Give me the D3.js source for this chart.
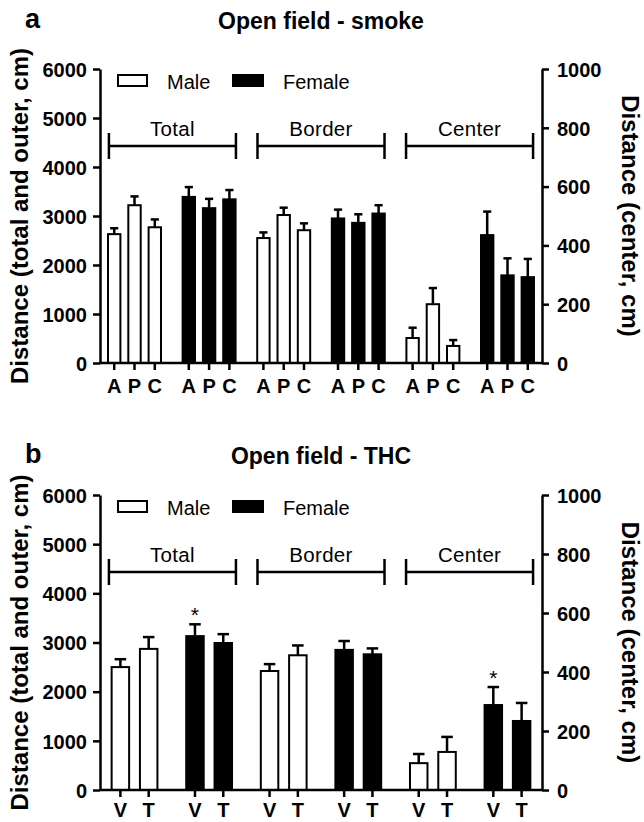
<!DOCTYPE html>
<html><head><meta charset="utf-8">
<script src="https://cdn.jsdelivr.net/npm/d3@7"></script>
<style>
body{margin:0;background:#fff}
text{font-family:"Liberation Sans",Arial,Helvetica,sans-serif;fill:#000}
</style>
</head><body>
<svg id="c" width="644" height="822"></svg>
<script>
// ---------- data ----------
const sections = ["Total", "Border", "Center"];
const sexes = ["Male", "Female"];
const leftTicks = [0, 1000, 2000, 3000, 4000, 5000, 6000];
const rightTicks = [0, 200, 400, 600, 800, 1000];

// panel a: smoke (A, P, C)
const smokeTreatments = ["A", "P", "C"];
const smokeMaleMean   = [[2630, 3220, 2770], [2550, 3020, 2710], [85, 200, 58]];
const smokeMaleSEM    = [[120, 180, 160], [115, 150, 140], [35, 55, 20]];
const smokeFemaleMean = [[3390, 3160, 3340], [2950, 2860, 3050], [435, 298, 292]];
const smokeFemaleSEM  = [[200, 190, 190], [180, 175, 170], [80, 58, 62]];
const smokeStars = [];

// panel b: THC (V, T)
const thcTreatments = ["V", "T"];
const thcMaleMean   = [[2500, 2870], [2420, 2740], [91, 129]];
const thcMaleSEM    = [[160, 240], [140, 200], [31, 51]];
const thcFemaleMean = [[3130, 2990], [2850, 2760], [288, 234]];
const thcFemaleSEM  = [[240, 180], [180, 120], [61, 61]];
const thcStars = [["Total", "Female", "V"], ["Center", "Female", "V"]];

// ---------- drawing ----------
const svg = d3.select("#c");
const X0 = 100, X1 = 542;
const SW = 2.5;

function panel(o) {
  const g = svg.append("g");
  const yL = d3.scaleLinear().domain([0, 6000]).range([o.y0, o.yTop]);
  const yR = d3.scaleLinear().domain([0, 1000]).range([o.y0, o.yTop]);
  const groups = [];
  sections.forEach(s => sexes.forEach(x => groups.push(s + "|" + x)));
  const gx = d3.scaleBand().domain(groups).range([X0, X1]).paddingInner(o.pi).paddingOuter(o.po);
  const bx = d3.scaleBand().domain(o.trts).range([0, gx.bandwidth()]).paddingInner(o.bpi).paddingOuter(0);
  const sx = d3.scaleBand().domain(sections).range([X0, X1]).paddingInner(0.145).paddingOuter(0.06);

  const data = [];
  sections.forEach((s, si) => sexes.forEach(sex => o.trts.forEach((t, ti) => {
    const mean = (sex === "Male" ? o.mM : o.mF)[si][ti];
    const sem = (sex === "Male" ? o.sM : o.sF)[si][ti];
    const y = s === "Center" ? yR : yL;
    const x = gx(s + "|" + sex) + bx(t);
    const star = o.stars.some(st => st[0] === s && st[1] === sex && st[2] === t);
    data.push({s, sex, t, mean, sem, y, x, star});
  })));
  const bw = bx.bandwidth();

  // titles
  g.append("text").attr("x", 25).attr("y", o.letterY).attr("font-size", 27).attr("font-weight", "bold").text(o.letter);
  g.append("text").attr("x", 321).attr("y", o.titleY).attr("text-anchor", "middle")
    .attr("font-size", 23).attr("font-weight", "bold").text(o.title);

  // bars
  g.selectAll("rect.bar").data(data).join("rect").attr("class", "bar")
    .attr("x", d => d.x).attr("width", bw)
    .attr("y", d => d.y(d.mean)).attr("height", d => d.y(0) - d.y(d.mean))
    .attr("fill", d => d.sex === "Male" ? "#fff" : "#000")
    .attr("stroke", "#000").attr("stroke-width", 2);

  // error bars
  const cap = bw * 0.33;
  data.forEach(d => {
    const cx = d.x + bw / 2;
    g.append("line").attr("x1", cx).attr("x2", cx).attr("y1", d.y(d.mean)).attr("y2", d.y(d.mean + d.sem))
      .attr("stroke", "#000").attr("stroke-width", SW);
    g.append("line").attr("x1", cx - cap).attr("x2", cx + cap).attr("y1", d.y(d.mean + d.sem)).attr("y2", d.y(d.mean + d.sem))
      .attr("stroke", "#000").attr("stroke-width", SW);
    if (d.star) {
      g.append("text").attr("x", cx).attr("y", d.y(d.mean + d.sem) - 2).attr("text-anchor", "middle")
        .attr("font-size", 21).text("*");
    }
  });

  // left / right axes
  const la = g.append("g").attr("transform", `translate(${X0},0)`)
    .call(d3.axisLeft(yL).tickValues(leftTicks).tickFormat(d3.format("d")).tickSize(7).tickSizeOuter(0).tickPadding(6));
  const ra = g.append("g").attr("transform", `translate(${X1},0)`)
    .call(d3.axisRight(yR).tickValues(rightTicks).tickFormat(d3.format("d")).tickSize(7).tickSizeOuter(0).tickPadding(8));
  [la, ra].forEach(a => {
    a.selectAll("path,line").attr("stroke", "#000").attr("stroke-width", SW);
    a.selectAll("text").attr("font-size", 20).attr("font-weight", "bold").attr("dy", "0.36em");
  });

  // x axis
  g.append("line").attr("x1", X0).attr("x2", X1).attr("y1", o.y0).attr("y2", o.y0)
    .attr("stroke", "#000").attr("stroke-width", SW);
  data.forEach(d => {
    const cx = d.x + bw / 2;
    g.append("line").attr("x1", cx).attr("x2", cx).attr("y1", o.y0).attr("y2", o.y0 + 7)
      .attr("stroke", "#000").attr("stroke-width", SW);
    g.append("text").attr("x", cx).attr("y", o.y0 + o.labDy).attr("text-anchor", "middle")
      .attr("font-size", 20).attr("font-weight", "bold").text(d.t);
  });

  // section brackets
  sections.forEach(s => {
    const a = sx(s), b = sx(s) + sx.bandwidth(), yb = o.yTop + 77;
    g.append("path").attr("d", `M${a},${yb - 13}V${yb + 13}M${a},${yb}H${b}M${b},${yb - 13}V${yb + 13}`)
      .attr("fill", "none").attr("stroke", "#000").attr("stroke-width", SW);
    g.append("text").attr("x", (a + b) / 2).attr("y", o.yTop + 67).attr("text-anchor", "middle")
      .attr("font-size", 20.5).attr("letter-spacing", 0.3).text(s);
  });

  // legend
  const ly = o.yTop + 6;
  g.append("rect").attr("x", X0 + 18).attr("y", ly).attr("width", 29).attr("height", 11)
    .attr("fill", "#fff").attr("stroke", "#000").attr("stroke-width", 2);
  g.append("text").attr("x", X0 + 67).attr("y", ly + 14).attr("font-size", 20).text(sexes[0]);
  g.append("rect").attr("x", X0 + 133).attr("y", ly).attr("width", 30).attr("height", 11)
    .attr("fill", "#000").attr("stroke", "#000").attr("stroke-width", 2);
  g.append("text").attr("x", X0 + 183).attr("y", ly + 14).attr("font-size", 20).text(sexes[1]);

  // y titles
  const cy = (o.y0 + o.yTop) / 2;
  g.append("text").attr("transform", `translate(28,${cy}) rotate(-90)`).attr("text-anchor", "middle")
    .attr("font-size", 24).attr("font-weight", "bold").text("Distance (total and outer, cm)");
  g.append("text").attr("transform", `translate(622,${cy}) rotate(90)`).attr("text-anchor", "middle")
    .attr("font-size", 24).attr("font-weight", "bold").text("Distance (center, cm)");
}

panel({letter: "a", letterY: 28, title: "Open field - smoke", titleY: 29, labDy: 30,
  y0: 363, yTop: 69, trts: smokeTreatments, pi: 0.29, po: 0.1075, bpi: 0.39,
  mM: smokeMaleMean, sM: smokeMaleSEM, mF: smokeFemaleMean, sF: smokeFemaleSEM, stars: smokeStars});
panel({letter: "b", letterY: 463, title: "Open field - THC", titleY: 464, labDy: 27,
  y0: 790, yTop: 495, trts: thcTreatments, pi: 0.386, po: 0.156, bpi: 0.382,
  mM: thcMaleMean, sM: thcMaleSEM, mF: thcFemaleMean, sF: thcFemaleSEM, stars: thcStars});
</script>
</body></html>
